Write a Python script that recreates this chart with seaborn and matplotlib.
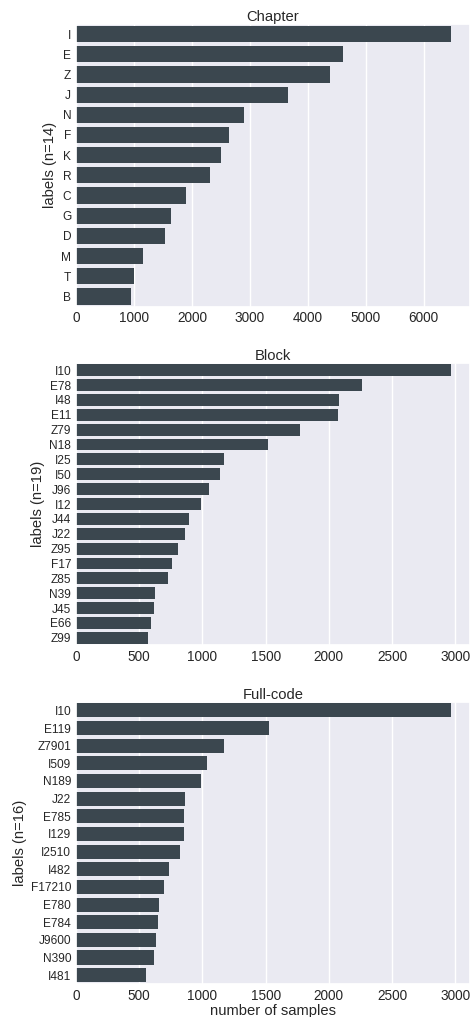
import matplotlib
matplotlib.use("Agg")
import matplotlib.pyplot as plt
import pandas as pd
import seaborn as sns

chapter_labels = ["I", "E", "Z", "J", "N", "F", "K", "R", "C", "G", "D", "M", "T", "B"]
chapter_counts = [6475, 4612, 4389, 3666, 2891, 2633, 2496, 2306, 1893, 1635, 1532, 1153, 998, 947]

block_labels = ["I10", "E78", "I48", "E11", "Z79", "N18", "I25", "I50", "J96", "I12",
                "J44", "J22", "Z95", "F17", "Z85", "N39", "J45", "E66", "Z99"]
block_counts = [2968, 2266, 2084, 2076, 1768, 1516, 1168, 1137, 1050, 987,
                892, 861, 805, 758, 726, 624, 616, 592, 568]

full_labels = ["I10", "E119", "Z7901", "I509", "N189", "J22", "E785", "I129", "I2510",
               "I482", "F17210", "E780", "E784", "J9600", "N390", "I481"]
full_counts = [2968, 1524, 1168, 1034, 987, 861, 853, 853, 821,
               734, 695, 655, 647, 632, 616, 553]

panels = [
    ("Chapter", chapter_labels, chapter_counts),
    ("Block", block_labels, block_counts),
    ("Full-code", full_labels, full_counts),
]

sns.set_theme(style="darkgrid", context="notebook")
plt.rcParams["font.family"] = ["Liberation Sans", "DejaVu Sans"]

fig, axes = plt.subplots(3, 1, figsize=(4.72, 10.17), dpi=100)
fig.subplots_adjust(left=0.161, right=0.9958, top=0.9764, bottom=0.0324, hspace=0.199)

bar_color = "#3b474f"
for ax, (title, labels, counts) in zip(axes, panels):
    df = pd.DataFrame({"label": labels, "count": counts})
    sns.barplot(data=df, x="count", y="label", color=bar_color, saturation=1,
                linewidth=0, ax=ax)
    ax.set_title(title, fontsize=10.6, pad=2)
    ax.set_ylabel(f"labels (n={len(labels)})", fontsize=10.6, labelpad=3)
    ax.set_xlabel("")
    ax.tick_params(axis="x", labelsize=9.8, length=0, pad=3.3)
    ax.tick_params(axis="y", labelsize=8.6, length=0, pad=3.5)

axes[-1].set_xlabel("number of samples", fontsize=10.6, labelpad=1)

fig.savefig("out.png", dpi=100)
